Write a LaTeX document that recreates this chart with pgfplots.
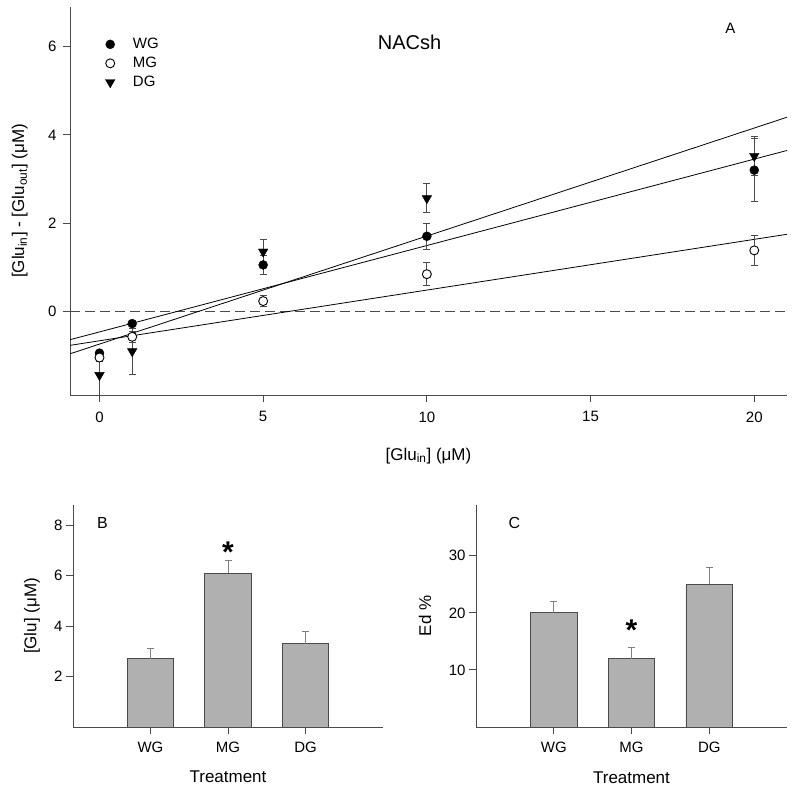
\documentclass[border=0pt]{standalone}
\usepackage{fontspec}
\setmainfont{Liberation Sans}
\usepackage{pgfplots}
\usepackage{pgfplotstable}
\pgfplotsset{compat=1.18}

\definecolor{axgray}{HTML}{4A4A4A}
\definecolor{bargray}{HTML}{B0B0B0}

% mean, error -- panel A
\pgfplotstableread{
x y e
0 -0.95 0.07
1 -0.28 0.05
5 1.05 0.21
10 1.70 0.30
20 3.20 0.72
}\wgdata
\pgfplotstableread{
x y e
0 -1.05 0.10
1 -0.58 0.12
5 0.23 0.12
10 0.84 0.26
20 1.38 0.34
}\mgdata
\pgfplotstableread{
x y e
0 -1.45 0.45
1 -0.91 0.53
5 1.35 0.28
10 2.56 0.33
20 3.52 0.44
}\dgdata
% panels B and C
\pgfplotstableread{
x y e
0 2.70 0.40
1 6.10 0.50
2 3.30 0.50
}\glu
\pgfplotstableread{
x y e
0 20.0 2.0
1 12.0 2.0
2 25.0 3.0
}\ed

\newcommand\labfont{\fontsize{17}{20}\selectfont}
\newcommand\tickfont{\fontsize{15}{18}\selectfont}

\pgfplotsset{
  sigma/.style={
    scale only axis,
    axis lines=left,
    axis line style={-, draw=axgray, line width=0.9pt},
    tick align=outside,
    major tick length=7pt,
    tick style={draw=axgray, line width=0.9pt},
    tick label style={font=\tickfont},
    /pgf/number format/assume math mode=true,
  },
  pts/.style={only marks,
    error bars/y dir=both, error bars/y explicit,
    error bars/error bar style={draw=axgray, line width=0.9pt},
    error bars/error mark options={rotate=90, draw=axgray, line width=0.9pt, mark size=3.5pt}},
  bars/.style={ybar, bar width=0.6, fill=bargray, draw=axgray, line width=0.8pt,
    error bars/y dir=plus, error bars/y explicit,
    error bars/error bar style={draw=gray, line width=0.8pt},
    error bars/error mark options={rotate=90, draw=gray, line width=0.8pt, mark size=3.5pt}},
}

\begin{document}
\begin{tikzpicture}
\useasboundingbox (0,0) rectangle (800pt,793pt);

% ---- A ----
\begin{axis}[sigma,
  at={(70pt,398pt)}, anchor=south west,
  width=717pt, height=388pt,
  xmin=-0.9, xmax=21, ymin=-1.9, ymax=6.9,
  xtick={0,5,10,15,20}, ytick={0,2,4,6},
  xticklabel style={yshift=-6pt},
  yticklabel style={xshift=-3pt},
  xlabel={[Glu\textsubscript{in}] (μM)},
  ylabel={[Glu\textsubscript{in}] - [Glu\textsubscript{out}] (μM)},
  every axis x label/.style={at={(axis description cs:0.5,-0.157)}, anchor=center, font=\labfont},
  every axis y label/.style={at={(axis description cs:-0.07,0.5)}, rotate=90, anchor=center, font=\labfont},
  legend style={draw=none, fill=none, at={(axis description cs:0.045,0.93)},
    anchor=north west, font=\tickfont, row sep=3pt,
    /tikz/column 1/.style={column sep=16pt}},
  legend cell align=left,
]
\addplot[forget plot, axgray, line width=0.8pt, dash pattern=on 10pt off 5pt]
  coordinates {(-0.9,0) (21,0)};
% fitted lines
\addplot[forget plot, black, line width=0.8pt] coordinates {(-0.9,-0.966) (21,4.40)};
\addplot[forget plot, black, line width=0.8pt] coordinates {(-0.9,-0.646) (21,3.646)};
\addplot[forget plot, black, line width=0.8pt] coordinates {(-0.9,-0.774) (21,1.745)};

\addplot[pts, mark=*, mark size=4.5pt, mark options={fill=black, draw=black}]
  table[x=x, y=y, y error=e]{\wgdata};
\addplot[pts, mark=*, mark size=4.5pt, mark options={fill=white, draw=black, line width=0.9pt}]
  table[x=x, y=y, y error=e]{\mgdata};
\addplot[pts, mark=triangle*, mark size=5.5pt, mark options={fill=black, draw=black, rotate=180}]
  table[x=x, y=y, y error=e]{\dgdata};
\legend{WG, MG, DG}

\node[font=\fontsize{20}{24}\selectfont] at (axis cs:9.47,6.10) {NACsh};
\node[font=\fontsize{15}{18}\selectfont] at (axis cs:19.27,6.41) {A};
\end{axis}

% ---- B ----
\begin{axis}[sigma,
  at={(73pt,66pt)}, anchor=south west,
  width=310pt, height=222pt,
  xmin=-1, xmax=3, ymin=0, ymax=8.8,
  xtick={0,1,2}, xticklabels={WG,MG,DG}, ytick={2,4,6,8},
  xticklabel style={yshift=-4pt},
  xlabel={Treatment}, ylabel={[Glu] (μM)},
  every axis x label/.style={at={(axis description cs:0.5,-0.225)}, anchor=center, font=\labfont},
  every axis y label/.style={at={(axis description cs:-0.132,0.5)}, rotate=90, anchor=center, font=\labfont},
]
\addplot[bars] table[x=x, y=y, y error=e]{\glu};
\node[font=\fontsize{16}{18}\selectfont] at (axis cs:-0.62,8.08) {B};
\node[font=\bfseries\fontsize{30}{32}\selectfont, anchor=north, inner sep=0pt] at (axis cs:1,7.34) {*};
\end{axis}

% ---- C ----
\begin{axis}[sigma,
  at={(476pt,66pt)}, anchor=south west,
  width=311pt, height=222pt,
  xmin=-1, xmax=3, ymin=0, ymax=38.9,
  xtick={0,1,2}, xticklabels={WG,MG,DG}, ytick={10,20,30},
  xticklabel style={yshift=-4pt},
  xlabel={Treatment}, ylabel={Ed \%},
  every axis x label/.style={at={(axis description cs:0.5,-0.23)}, anchor=center, font=\labfont},
  every axis y label/.style={at={(axis description cs:-0.164,0.5)}, rotate=90, anchor=center, font=\labfont},
]
\addplot[bars] table[x=x, y=y, y error=e]{\ed};
\node[font=\fontsize{16}{18}\selectfont] at (axis cs:-0.505,35.8) {C};
\node[font=\bfseries\fontsize{30}{32}\selectfont, anchor=north, inner sep=0pt] at (axis cs:1,18.8) {*};
\end{axis}
\end{tikzpicture}
\end{document}
